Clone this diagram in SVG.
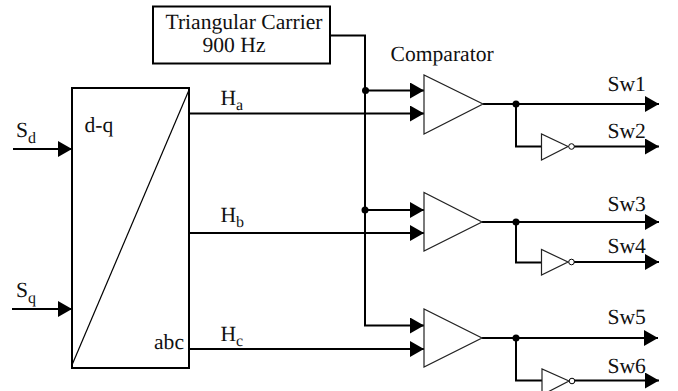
<svg xmlns="http://www.w3.org/2000/svg" width="678" height="391" viewBox="0 0 678 391">
<style>
text{font-family:"Liberation Serif","Times New Roman",serif;font-size:21.6px;fill:#111;text-rendering:geometricPrecision}
.sub{font-size:16px}
.w{fill:none;stroke:#000;stroke-width:2}
.t{fill:#fff;stroke:#222;stroke-width:1.2}
.box{fill:#fff;stroke:#000;stroke-width:2}
.bub{fill:#fff;stroke:#000;stroke-width:1}
</style>
<defs>
<marker id="a" markerUnits="userSpaceOnUse" markerWidth="14" markerHeight="16" refX="14" refY="8" orient="auto"><path d="M0 0L14 8L0 16Z" fill="#000"/></marker>
</defs>
<g id="connectors">
<path class="w" d="M330 35.5H365V325.5H424" marker-end="url(#a)"/>
<path class="w" d="M365 90.5H424" marker-end="url(#a)"/>
<path class="w" d="M365 210H424" marker-end="url(#a)"/>
<path class="w" d="M189 113.5H424" marker-end="url(#a)"/>
<path class="w" d="M189 233H424" marker-end="url(#a)"/>
<path class="w" d="M189 349H424" marker-end="url(#a)"/>
<path class="w" d="M13 149H72" marker-end="url(#a)"/>
<path class="w" d="M12 309H72" marker-end="url(#a)"/>
<path class="w" d="M483 104H659" marker-end="url(#a)"/>
<path class="w" d="M482 222H659" marker-end="url(#a)"/>
<path class="w" d="M482 338H658" marker-end="url(#a)"/>
<path class="w" d="M516 104V146.5H542"/>
<path class="w" d="M516 222V262.5H542"/>
<path class="w" d="M516 338V380.5H542"/>
<path class="w" d="M574 146.5H659" marker-end="url(#a)"/>
<path class="w" d="M574 262H659" marker-end="url(#a)"/>
<path class="w" d="M574 380.5H659" marker-end="url(#a)"/>
<circle cx="365.500" cy="90.500" r="3.500"/>
<circle cx="365" cy="210" r="3.500"/>
<circle cx="516" cy="104" r="3.500"/>
<circle cx="516" cy="222" r="3.500"/>
<circle cx="516" cy="338" r="3.500"/>
</g>
<g id="carrier"><rect class="box" x="153" y="6.500" width="177" height="57"/>
<text x="165.500" y="28.500">Triangular Carrier</text><text x="202.500" y="52">900 Hz</text></g>
<g id="dq"><rect class="box" x="72" y="88" width="117" height="280"/>
<path d="M72 365L189 90" fill="none" stroke="#000" stroke-width="1.2"/>
<text x="84.500" y="131.500">d-q</text><text x="154" y="349">abc</text></g>
<g id="sd"><text x="16" y="137">S<tspan class="sub" dy="6">d</tspan></text></g>
<g id="sq"><text x="16" y="297">S<tspan class="sub" dy="6">q</tspan></text></g>
<g id="ha"><text x="220.500" y="105">H<tspan class="sub" dy="5">a</tspan></text></g>
<g id="hb"><text x="220.500" y="222">H<tspan class="sub" dy="5">b</tspan></text></g>
<g id="hc"><text x="220.500" y="341">H<tspan class="sub" dy="5">c</tspan></text></g>
<g id="comp-label"><text x="390.500" y="61">Comparator</text></g>
<g id="comp1"><path class="t" d="M424 75V134L483 104Z"/></g>
<g id="comp2"><path class="t" d="M424 192.500V251L482 222Z"/></g>
<g id="comp3"><path class="t" d="M424 309V367L482 338Z"/></g>
<g id="inv1"><path class="t" d="M541.500 134V160L568 146.500Z"/><circle class="bub" cx="571.500" cy="146.500" r="2.800"/></g>
<g id="inv2"><path class="t" d="M541.500 249.500V275L568 262Z"/><circle class="bub" cx="571.500" cy="262" r="2.800"/></g>
<g id="inv3"><path class="t" d="M542 369V395L569 381Z"/><circle class="bub" cx="572" cy="381" r="2.800"/></g>
<g id="sw"><text x="607.500" y="91">Sw1</text><text x="607.500" y="138">Sw2</text><text x="607.500" y="211">Sw3</text><text x="607.500" y="253">Sw4</text><text x="607.500" y="324">Sw5</text><text x="607.500" y="373">Sw6</text></g>
</svg>
